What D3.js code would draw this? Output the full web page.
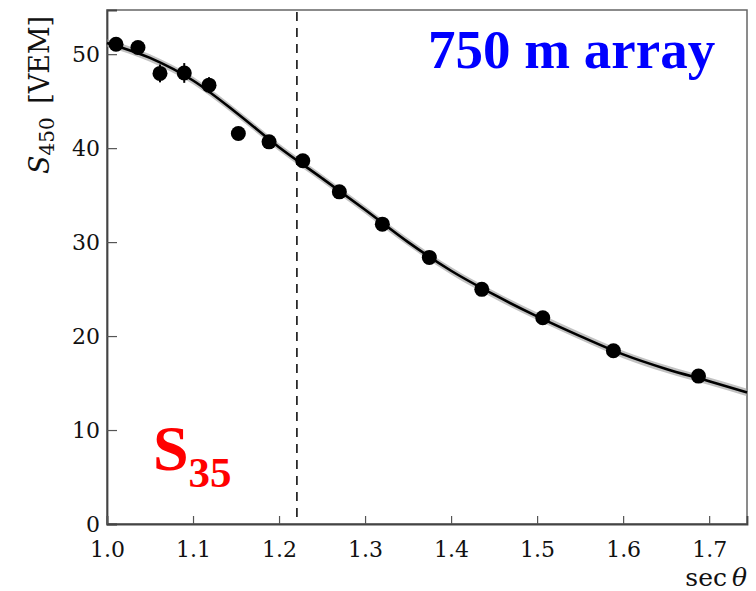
<!DOCTYPE html>
<html>
<head>
<meta charset="utf-8">
<script src="https://cdn.jsdelivr.net/npm/d3@7"></script>
<style>
  html, body { margin: 0; padding: 0; background: #fff; }
  svg { display: block; }
</style>
</head>
<body>
<svg id="chart" width="756" height="591"></svg>
<script>
// Measured S450 per sec(theta) bin
const secTheta = [1.0105, 1.0360, 1.0616, 1.0898, 1.1186, 1.1527, 1.1884, 1.2276,
                  1.2701, 1.3201, 1.3747, 1.4357, 1.5066, 1.5887, 1.6876];
const s450 = [51.06, 50.71, 47.95, 48.0, 46.70, 41.56, 40.67, 38.65,
              35.35, 31.91, 28.37, 24.97, 21.95, 18.44, 15.74];
const s450Err = [0.5, 0.5, 0.95, 1.05, 0.85, 0.5, 0.5, 0.4,
                 0.4, 0.4, 0.35, 0.35, 0.3, 0.3, 0.3];

// Attenuation fit, sampled along sec(theta)
const fitSec = [1.00, 1.05, 1.10, 1.15, 1.20, 1.25, 1.30, 1.35, 1.40, 1.45,
                1.50, 1.55, 1.60, 1.65, 1.70, 1.744];
const fitS450 = [51.2, 49.6, 47.2, 43.8, 40.1, 36.8, 33.45, 30.0, 26.95, 24.4,
                 22.1, 20.0, 18.05, 16.5, 15.2, 14.0];
const fitBand = 0.4;

// Reference zenith angle: sec(35 deg)
const refSec = 1 / Math.cos(35 * Math.PI / 180);

const xTicks = [1.0, 1.1, 1.2, 1.3, 1.4, 1.5, 1.6, 1.7];
const yTicks = [0, 10, 20, 30, 40, 50];

const svg = d3.select("#chart");
const plot = { left: 107, right: 747, top: 10, bottom: 524 };

const x = d3.scaleLinear().domain([1.0, 1.744]).range([plot.left, plot.right]);
const y = d3.scaleLinear().domain([0, 54.7]).range([plot.bottom, plot.top]);

const serif = "'Liberation Serif', 'Times New Roman', serif";
const bookSerif = "'DejaVu Serif', serif";

// plot frame
svg.append("rect")
  .attr("x", plot.left).attr("y", plot.top)
  .attr("width", plot.right - plot.left).attr("height", plot.bottom - plot.top)
  .attr("fill", "none").attr("stroke", "#666").attr("stroke-width", 1.5);

// axes with inward ticks
const yAxis = d3.axisLeft(y).tickValues(yTicks).tickSize(-10).tickPadding(7)
  .tickFormat(d3.format("d"));
const gy = svg.append("g").attr("transform", `translate(${plot.left},0)`).call(yAxis);
const xAxis = d3.axisBottom(x).tickValues(xTicks).tickSize(-8).tickPadding(17)
  .tickFormat(d3.format(".1f"));
const gx = svg.append("g").attr("transform", `translate(0,${plot.bottom})`).call(xAxis);

[gx, gy].forEach(g => {
  g.select(".domain").attr("stroke", "#444").attr("stroke-width", 1.8);
  g.selectAll(".tick line").attr("stroke", "#555").attr("stroke-width", 1.2);
  g.selectAll(".tick text").attr("fill", "#111")
    .attr("font-family", bookSerif).attr("font-size", 22);
});

// reference line at 35 degrees
svg.append("line")
  .attr("x1", x(refSec)).attr("x2", x(refSec))
  .attr("y1", plot.top + 2).attr("y2", plot.bottom)
  .attr("stroke", "#000").attr("stroke-width", 1.5)
  .attr("stroke-dasharray", "9,7");

// fit band and curve
const fitData = fitSec.map((s, i) => ({ s, v: fitS450[i] }));
svg.append("path")
  .datum(fitData)
  .attr("d", d3.area()
    .x(d => x(d.s)).y0(d => y(d.v - fitBand)).y1(d => y(d.v + fitBand))
    .curve(d3.curveMonotoneX))
  .attr("fill", "#9a9a9a").attr("opacity", 0.6);
svg.append("path")
  .datum(fitData)
  .attr("d", d3.line().x(d => x(d.s)).y(d => y(d.v)).curve(d3.curveMonotoneX))
  .attr("fill", "none").attr("stroke", "#000").attr("stroke-width", 2.6);

// data points with error bars
const pts = secTheta.map((s, i) => ({ s, v: s450[i], e: s450Err[i] }));
svg.append("g").selectAll("line").data(pts).join("line")
  .attr("x1", d => x(d.s)).attr("x2", d => x(d.s))
  .attr("y1", d => y(d.v - d.e)).attr("y2", d => y(d.v + d.e))
  .attr("stroke", "#000").attr("stroke-width", 2);
svg.append("g").selectAll("circle").data(pts).join("circle")
  .attr("cx", d => x(d.s)).attr("cy", d => y(d.v)).attr("r", 7.5)
  .attr("fill", "#000");

// axis titles
const yl = svg.append("text")
  .attr("transform", "translate(49,95) rotate(-90)")
  .attr("text-anchor", "middle")
  .attr("font-family", bookSerif).attr("font-size", 27).attr("fill", "#111");
yl.append("tspan").attr("font-style", "italic").text("S");
yl.append("tspan").attr("font-size", 20).attr("dy", 5).text("450");
yl.append("tspan").attr("dy", -5).text("\u2002[VEM]");

const xl = svg.append("text")
  .attr("x", 747).attr("y", 586)
  .attr("text-anchor", "end")
  .attr("font-family", bookSerif).attr("font-size", 25).attr("fill", "#111");
xl.append("tspan").text("sec\u2009");
xl.append("tspan").attr("font-style", "italic").text("\u03b8");

// annotations
svg.append("text")
  .attr("x", 428).attr("y", 68)
  .attr("font-family", serif).attr("font-weight", "bold")
  .attr("font-size", 55).attr("fill", "#0000ff")
  .text("750 m array");

const s35 = svg.append("text")
  .attr("x", 153).attr("y", 470)
  .attr("font-family", serif).attr("font-weight", "bold")
  .attr("font-size", 64).attr("fill", "#ff0000");
s35.append("tspan").text("S");
s35.append("tspan").attr("font-size", 43).attr("dy", 17).text("35");
</script>
</body>
</html>
